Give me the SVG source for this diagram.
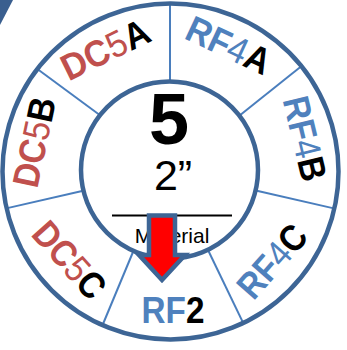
<svg xmlns="http://www.w3.org/2000/svg" width="347" height="350" viewBox="0 0 347 350">
<style>
.ring{fill:none;stroke:#3D6595;stroke-width:4.5}
.div{stroke:#4A7EBD;stroke-width:2}
.lbl{font-family:"Liberation Sans",Arial,sans-serif;font-weight:bold;font-size:37px;text-anchor:middle}
.red{fill:#C0504D}
.blue{fill:#4F81BD}
.blk{fill:#000}
.dig{font-weight:normal}
.ctr{font-family:"Liberation Sans",Arial,sans-serif;text-anchor:middle;fill:#000}
</style>
<rect width="347" height="350" fill="#fff"/>
<polygon points="0,0 13,0 0,25" fill="#3A5F8F"/>
<g id="connectors">
<line class="div" x1="170" y1="83" x2="170" y2="3"/>
<line class="div" x1="239.6" y1="115.5" x2="301.3" y2="66.3"/>
<line class="div" x1="256.8" y1="190.8" x2="333.8" y2="208.4"/>
<line class="div" x1="208.6" y1="251.2" x2="242.9" y2="322.4"/>
<line class="div" x1="133" y1="252" x2="103" y2="324"/>
<line class="div" x1="83.2" y1="190.8" x2="6.2" y2="208.4"/>
<line class="div" x1="100.4" y1="115.5" x2="36" y2="68"/>
</g>
<g id="outer-ring"><circle class="ring" cx="170.5" cy="171.5" r="168"/></g>
<g id="inner-circle"><circle class="ring" cx="169.5" cy="170" r="88.5" fill="#fff"/></g>
<g id="seg-dc5a" transform="translate(170,171) rotate(-28) translate(0,-138) rotate(2)"><text class="lbl" x="0" y="13" textLength="94" lengthAdjust="spacingAndGlyphs"><tspan class="red">DC</tspan><tspan class="red dig">5</tspan><tspan class="blk">A</tspan></text></g>
<g id="seg-rf4a" transform="translate(170,171) rotate(25) translate(0,-139)"><text class="lbl" x="0" y="13" textLength="89" lengthAdjust="spacingAndGlyphs"><tspan class="blue">RF</tspan><tspan class="blue dig">4</tspan><tspan class="blk">A</tspan></text></g>
<g id="seg-rf4b" transform="translate(170,171) rotate(76.5) translate(0,-139)"><text class="lbl" x="0" y="13" textLength="86" lengthAdjust="spacingAndGlyphs"><tspan class="blue">RF</tspan><tspan class="blue dig">4</tspan><tspan class="blk">B</tspan></text></g>
<g id="seg-rf4c" transform="translate(170,171) rotate(131.5) translate(0,-136) rotate(180)"><text class="lbl" x="0" y="13" textLength="85" lengthAdjust="spacingAndGlyphs"><tspan class="blue">RF</tspan><tspan class="blue dig">4</tspan><tspan class="blk">C</tspan></text></g>
<g id="seg-rf2" transform="translate(173,310) scale(0.9,1)"><text class="lbl" x="0" y="13"><tspan class="blue">RF</tspan><tspan class="blk">2</tspan></text></g>
<g id="seg-dc5c" transform="translate(170,171) rotate(228.5) translate(0,-134) rotate(180)"><text class="lbl" x="0" y="13" textLength="90" lengthAdjust="spacingAndGlyphs"><tspan class="red">DC</tspan><tspan class="red dig">5</tspan><tspan class="blk">C</tspan></text></g>
<g id="seg-dc5b" transform="translate(170,171) rotate(-78) translate(0,-139)"><text class="lbl" x="0" y="13" textLength="91" lengthAdjust="spacingAndGlyphs"><tspan class="red">DC</tspan><tspan class="red dig">5</tspan><tspan class="blk">B</tspan></text></g>
<g id="center">
<text class="ctr" x="169" y="144" font-size="72" font-weight="bold">5</text>
<text class="ctr" x="173" y="190" font-size="43">2”</text>
<line x1="112" y1="215.5" x2="232" y2="215.5" stroke="#000" stroke-width="2"/>
<text class="ctr" x="172" y="243" font-size="21">Material</text>
</g>
<g id="arrow"><path d="M149,215.5 H175 V255 H185 L162,280 L139,255 H149 Z" fill="#FF0000" stroke="#3D6595" stroke-width="4.5" stroke-linejoin="miter"/></g>
</svg>
